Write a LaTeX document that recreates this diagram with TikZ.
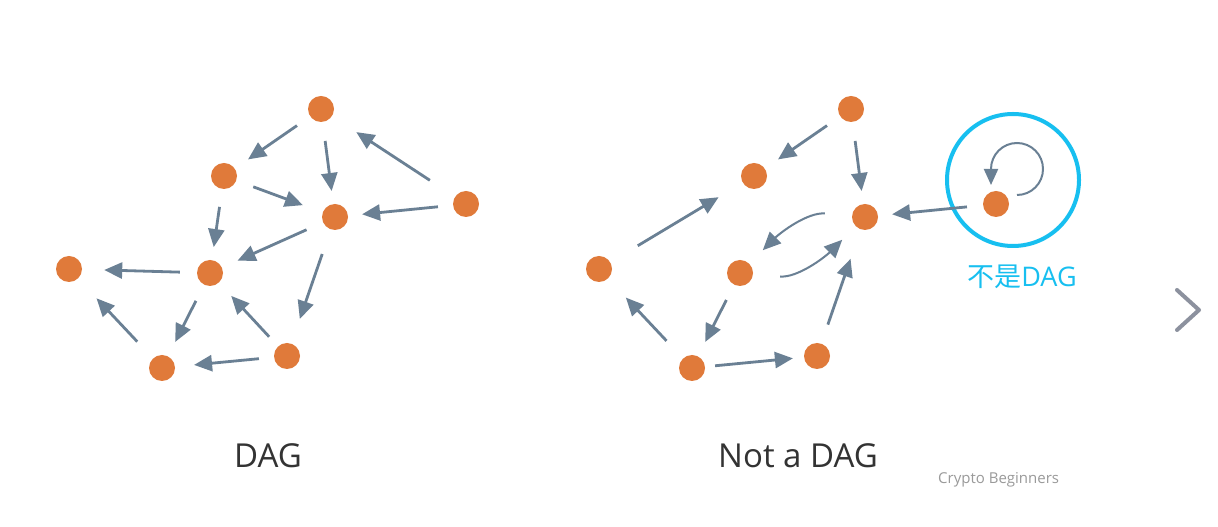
\documentclass[tikz,border=0pt]{standalone}
\usepackage{fontspec}
\setmainfont{Open Sans}
\newfontfamily\cjkfont{Noto Sans CJK SC}
\usetikzlibrary{arrows.meta}
\definecolor{dotorange}{HTML}{E07A3A}
\definecolor{linkgray}{HTML}{6A8094}
\definecolor{ringblue}{HTML}{17BFF0}
\definecolor{titlegray}{HTML}{333333}
\definecolor{markgray}{HTML}{9A9A9A}
\definecolor{chevgray}{HTML}{8C919E}
\tikzset{
  vertex/.style={circle,fill=dotorange,minimum size=26pt,inner sep=0pt},
  link/.style={draw=linkgray,line width=2.8pt,-{Triangle[length=18pt,width=16pt]},
    shorten <=16pt,shorten >=16pt},
  loopline/.style={draw=linkgray,line width=2pt,-{Triangle[length=16pt,width=14pt]}},
}
\begin{document}
\begin{tikzpicture}[x=1pt,y=1pt]
    \useasboundingbox[fill=white] (0,0) rectangle (1218,527);
    % DAG
    \node[vertex] (la) at (321,418) {};
    \node[vertex] (lb) at (224,351) {};
    \node[vertex] (lc) at (335,310) {};
    \node[vertex] (ld) at (466,323) {};
    \node[vertex] (le) at (210,254) {};
    \node[vertex] (lf) at (69,258) {};
    \node[vertex] (lg) at (162,159) {};
    \node[vertex] (lh) at (287,171) {};
    \draw[link] (la) -- (lb);
    \draw[link,shorten <=19pt,shorten >=13pt] (la) -- (lc);
    \draw[link,shorten <=30pt,shorten >=29pt] (ld) -- (la);
    \draw[link,shorten <=18pt,shorten >=21pt] (lb) -- (lc);
    \draw[link,shorten <=18pt,shorten >=13pt] (lb) -- (le);
    \draw[link,shorten <=15pt,shorten >=14pt] (ld) -- (lc);
    \draw[link,shorten <=18pt,shorten >=17pt] (lc) -- (le);
    \draw[link,shorten <=26pt,shorten >=26pt] (lc) -- (lh);
    \draw[link,shorten <=17pt,shorten >=22pt] (le) -- (lf);
    \draw[link,shorten <=18pt,shorten >=16pt] (le) -- (lg);
    \draw[link,shorten <=13pt,shorten >=18pt] (lh) -- (le);
    \draw[link,shorten <=23pt,shorten >=27pt] (lg) -- (lf);
    \draw[link,shorten <=15pt,shorten >=19pt] (lh) -- (lg);
    \node[anchor=base,text=titlegray,font=\fontsize{33}{40}\selectfont] (ltitle) at (268,59) {DAG};
    % Not a DAG
    \node[vertex] (ra) at (851,418) {};
    \node[vertex] (rb) at (754,351) {};
    \node[vertex] (rc) at (865,310) {};
    \node[vertex] (rd) at (996,323) {};
    \node[vertex] (re) at (740,254) {};
    \node[vertex] (rf) at (599,258) {};
    \node[vertex] (rg) at (692,159) {};
    \node[vertex] (rh) at (817,171) {};
    \draw[ringblue,line width=4pt] (1013,347) circle[radius=66pt];
    \draw[link] (ra) -- (rb);
    \draw[link,shorten <=19pt,shorten >=13pt] (ra) -- (rc);
    \draw[link,shorten <=16pt,shorten >=14pt] (rd) -- (rc);
    \draw[link,shorten <=32pt,shorten >=28pt] (rf) -- (rb);
    \draw[link,line width=2pt,shorten <=27pt,shorten >=19pt] (rc) to[out=175,in=45] (re);
    \draw[link,line width=2pt,shorten <=27pt,shorten >=19pt] (re) to[out=-5,in=225] (rc);
    \draw[link,shorten <=17pt,shorten >=16pt] (re) -- (rg);
    \draw[link,shorten <=20pt,shorten >=31pt] (rh) -- (rc);
    \draw[link,shorten <=10pt,shorten >=11pt] (rg) -- (rh);
    \draw[link,shorten <=24pt,shorten >=26pt] (rg) -- (rf);
    \draw[loopline] ([shift={(21,9)}]rd.center) arc[start angle=-90,end angle=180,radius=26pt] -- ++(0,-16);
    \node[anchor=base,text=ringblue,font=\fontsize{27}{32}\selectfont] (rnote) at (1022,240) {{\cjkfont 不是}DAG};
    \node[anchor=base,text=titlegray,font=\fontsize{33}{40}\selectfont] (rtitle) at (798,59) {Not a DAG};
    % footer
    \node[anchor=base west,inner sep=0pt,text=markgray,font=\fontsize{15}{18}\selectfont] (brand) at (938,43) {Crypto Beginners};
    \draw[chevgray,line width=4pt,line cap=round,line join=round] (1177,237) -- (1199,217) -- (1177,197);
\end{tikzpicture}
\end{document}
